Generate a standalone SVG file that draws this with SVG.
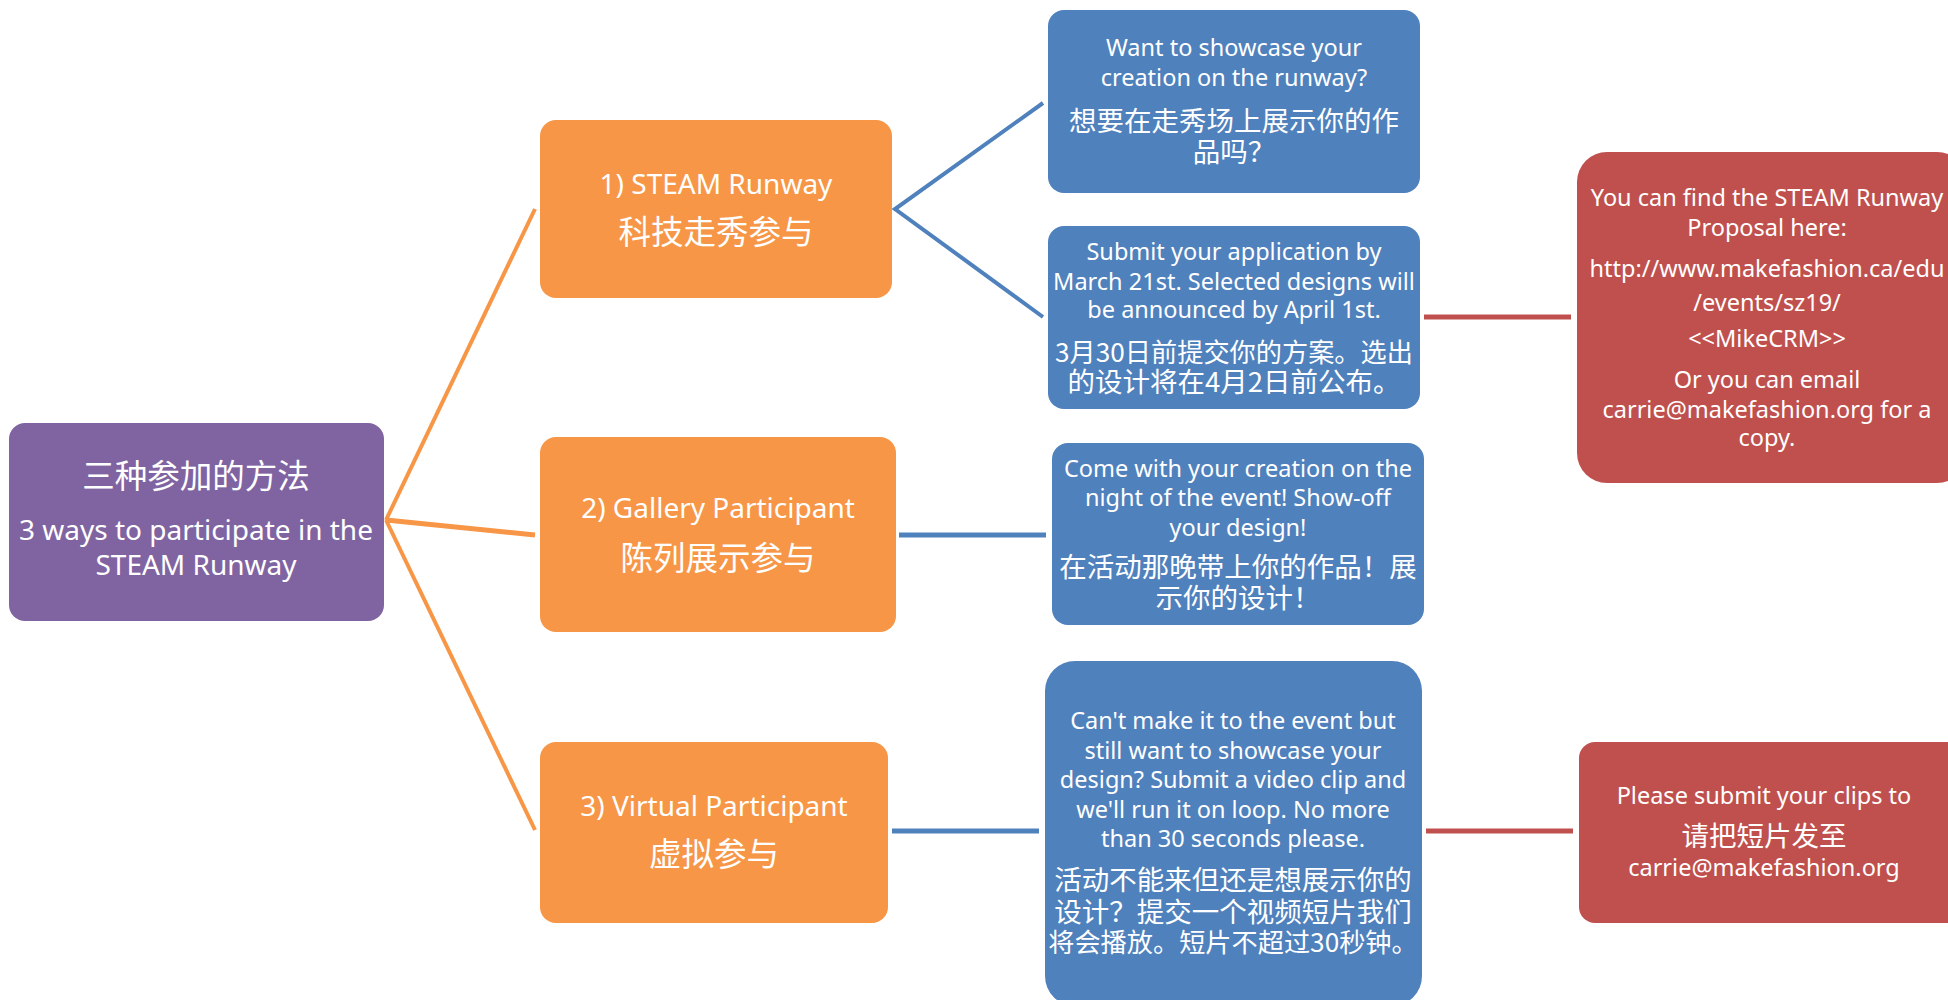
<svg xmlns="http://www.w3.org/2000/svg" width="1948" height="1000" viewBox="0 0 1948 1000">
<style>
text{font-family:"Noto Sans","Noto Sans CJK SC",sans-serif;fill:#fff;text-anchor:middle}
.cn{font-family:"Noto Sans CJK SC","Noto Sans",sans-serif}
.p{fill:#8064A2}.o{fill:#F79646}.b{fill:#4F81BD}.r{fill:#C0504D}
.lo{stroke:#F79646;fill:none}.lb{stroke:#4F81BD;fill:none}.lr{stroke:#C0504D;fill:none}
.t26{font-size:28px}.t22{font-size:23.5px}.c31{font-size:32.5px}.c26{font-size:27.5px}.c25{font-size:26.2px}
</style>
<rect width="1948" height="1000" fill="#fff"/>
<g id="connectors">
<line class="lo" stroke-width="4" x1="386" y1="520" x2="535" y2="209"/>
<line class="lo" stroke-width="5" x1="386" y1="520" x2="535" y2="535"/>
<line class="lo" stroke-width="4" x1="386" y1="520" x2="535" y2="830"/>
<polyline class="lb" stroke-width="4" points="1043,103 895,209 1043,317"/>
<line class="lb" stroke-width="5" x1="899" y1="535" x2="1046" y2="535"/>
<line class="lb" stroke-width="5" x1="892" y1="831" x2="1039" y2="831"/>
<line class="lr" stroke-width="5" x1="1424" y1="317" x2="1571" y2="317"/>
<line class="lr" stroke-width="5" x1="1426" y1="831" x2="1573" y2="831"/>
</g>
<g id="root">
<rect class="p" x="9" y="423" width="375" height="198" rx="16"/>
<text class="cn c31" x="196" y="488">三种参加的方法</text>
<text class="t26" x="196" y="540">3 ways to participate in the</text>
<text class="t26" x="196" y="575">STEAM Runway</text>
</g>
<g id="steam-runway">
<rect class="o" x="540" y="120" width="352" height="178" rx="16"/>
<text class="t26" x="716" y="194">1) STEAM Runway</text>
<text class="cn c31" x="716" y="244">科技走秀参与</text>
</g>
<g id="gallery">
<rect class="o" x="540" y="437" width="356" height="195" rx="16"/>
<text class="t26" x="718" y="518">2) Gallery Participant</text>
<text class="cn c31" x="718" y="570">陈列展示参与</text>
</g>
<g id="virtual">
<rect class="o" x="540" y="742" width="348" height="181" rx="16"/>
<text class="t26" x="714" y="816">3) Virtual Participant</text>
<text class="cn c31" x="714" y="866">虚拟参与</text>
</g>
<g id="showcase">
<rect class="b" x="1048" y="10" width="372" height="183" rx="16"/>
<text class="t22" x="1234" y="56">Want to showcase your</text>
<text class="t22" x="1234" y="86">creation on the runway?</text>
<text class="cn c26" x="1234" y="131">想要在走秀场上展示你的作</text>
<text class="cn c26" x="1234" y="162">品吗？</text>
</g>
<g id="submit">
<rect class="b" x="1048" y="226" width="372" height="183" rx="16"/>
<text class="t22" x="1234" y="260">Submit your application by</text>
<text class="t22" x="1234" y="290">March 21st. Selected designs will</text>
<text class="t22" x="1234" y="318">be announced by April 1st.</text>
<text class="cn c25" x="1234" y="362">3月30日前提交你的方案。选出</text>
<text class="cn c26" x="1234" y="392">的设计将在4月2日前公布。</text>
</g>
<g id="come">
<rect class="b" x="1052" y="443" width="372" height="182" rx="16"/>
<text class="t22" x="1238" y="477">Come with your creation on the</text>
<text class="t22" x="1238" y="506">night of the event!  Show-off</text>
<text class="t22" x="1238" y="536">your design!</text>
<text class="cn c26" x="1238" y="577">在活动那晚带上你的作品！展</text>
<text class="cn c26" x="1238" y="608">示你的设计！</text>
</g>
<g id="video">
<rect class="b" x="1045" y="661" width="377" height="345" rx="30"/>
<text class="t22" x="1233" y="729">Can't make it to the event but</text>
<text class="t22" x="1233" y="759">still want to showcase your</text>
<text class="t22" x="1233" y="788">design? Submit a video clip and</text>
<text class="t22" x="1233" y="818">we'll run it on loop. No more</text>
<text class="t22" x="1233" y="847">than 30 seconds please.</text>
<text class="cn c26" x="1233" y="890">活动不能来但还是想展示你的</text>
<text class="cn c26" x="1233" y="922">设计？提交一个视频短片我们</text>
<text class="cn c25" x="1233" y="952">将会播放。短片不超过30秒钟。</text>
</g>
<g id="proposal">
<rect class="r" x="1577" y="152" width="390" height="331" rx="30"/>
<text class="t22" x="1767" y="206">You can find the STEAM Runway</text>
<text class="t22" x="1767" y="236">Proposal here:</text>
<text class="t22" x="1767" y="277">http://www.makefashion.ca/edu</text>
<text class="t22" x="1767" y="311">/events/sz19/</text>
<text class="t22" x="1767" y="347">&lt;&lt;MikeCRM&gt;&gt;</text>
<text class="t22" x="1767" y="388">Or you can email</text>
<text class="t22" x="1767" y="418">carrie@makefashion.org for a</text>
<text class="t22" x="1767" y="446">copy.</text>
</g>
<g id="clips">
<rect class="r" x="1579" y="742" width="390" height="181" rx="16"/>
<text class="t22" x="1764" y="804">Please submit your clips to</text>
<text class="cn c26" x="1764" y="846">请把短片发至</text>
<text class="t22" x="1764" y="876">carrie@makefashion.org</text>
</g>
</svg>
